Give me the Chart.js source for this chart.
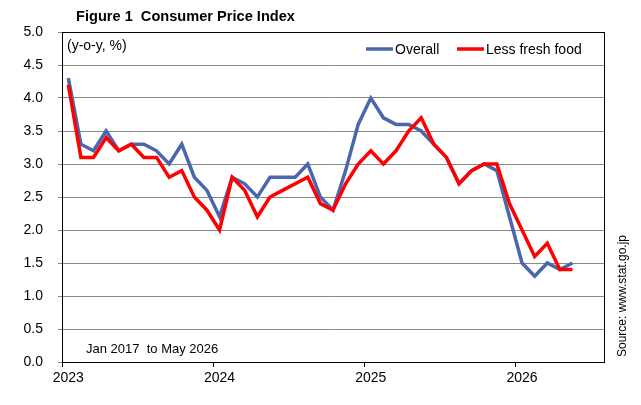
<!DOCTYPE html>
<html>
<head>
<meta charset="utf-8">
<script src="https://cdn.jsdelivr.net/npm/chart.js@4"></script>
<style>
  html, body { margin: 0; padding: 0; background: #fff; }
  #wrap { width: 641px; height: 405px; position: relative; }
</style>
</head>
<body>
<div id="wrap"><canvas id="grafico-cpi"></canvas></div>
<script>
// Dados (variação anual, %)
const years = ['2023', '2024', '2025', '2026'];
const monthNames = ['Jan','Feb','Mar','Apr','May','Jun','Jul','Aug','Sep','Oct','Nov','Dec'];
const overall = [
  4.3, 3.3, 3.2, 3.5, 3.2, 3.3, 3.3, 3.2, 3.0, 3.3, 2.8, 2.6,
  2.2, 2.8, 2.7, 2.5, 2.8, 2.8, 2.8, 3.0, 2.5, 2.3, 2.9, 3.6,
  4.0, 3.7, 3.6, 3.6, 3.5, 3.3, 3.1, 2.7, 2.9, 3.0, 2.9, 2.2,
  1.5, 1.3, 1.5, 1.4, 1.5
];
const lessFreshFood = [
  4.2, 3.1, 3.1, 3.4, 3.2, 3.3, 3.1, 3.1, 2.8, 2.9, 2.5, 2.3,
  2.0, 2.8, 2.6, 2.2, 2.5, 2.6, 2.7, 2.8, 2.4, 2.3, 2.7, 3.0,
  3.2, 3.0, 3.2, 3.5, 3.7, 3.3, 3.1, 2.7, 2.9, 3.0, 3.0, 2.4,
  2.0, 1.6, 1.8, 1.4, 1.4
];
// eixo vai até Jul 2026 (duas categorias vazias no fim)
const categories = years.flatMap(y => monthNames.map(m => m + ' ' + y)).slice(0, 43);

const FONT = "'Liberation Sans', Arial, sans-serif";
Chart.defaults.font.family = FONT;
Chart.defaults.color = '#000';

// Textos e legenda desenhados dentro da área
const extras = {
  id: 'extras',
  afterDraw(chart) {
    const { ctx, chartArea: a } = chart;
    ctx.save();
    // moldura
    ctx.strokeStyle = '#000';
    ctx.lineWidth = 1;
    ctx.strokeRect(Math.round(a.left) + 0.5, Math.round(a.top) + 0.5,
      Math.round(a.right - a.left), Math.round(a.bottom - a.top));

    ctx.fillStyle = '#000';
    ctx.textBaseline = 'alphabetic';
    ctx.textAlign = 'left';
    ctx.font = 'bold 14.6px ' + FONT;
    ctx.fillText('Figure 1  Consumer Price Index', 76, 21);

    ctx.font = '14px ' + FONT;
    ctx.fillText('(y-o-y, %)', 67, 50);

    ctx.font = '13px ' + FONT;
    ctx.fillText('Jan 2017  to May 2026', 86, 353);

    // legenda
    const itens = [
      { ds: chart.data.datasets[0], x: 366 },
      { ds: chart.data.datasets[1], x: 457 }
    ];
    ctx.font = '14px ' + FONT;
    itens.forEach(it => {
      ctx.strokeStyle = it.ds.borderColor;
      ctx.lineWidth = 3.5;
      ctx.beginPath();
      ctx.moveTo(it.x, 49);
      ctx.lineTo(it.x + 27, 49);
      ctx.stroke();
      ctx.fillText(it.ds.label, it.x + 29, 54);
    });

    // fonte
    ctx.font = '12px ' + FONT;
    ctx.translate(625.5, 296);
    ctx.rotate(-Math.PI / 2);
    ctx.textAlign = 'center';
    ctx.fillText('Source: www.stat.go.jp', 0, 0);
    ctx.restore();
  }
};

const grafico = new Chart(document.getElementById('grafico-cpi'), {
  type: 'line',
  data: {
    labels: categories,
    datasets: [
      { label: 'Overall', data: overall, borderColor: '#4A66AC', borderWidth: 3.5,
        pointRadius: 0, tension: 0, fill: false, order: 1 },
      { label: 'Less fresh food', data: lessFreshFood, borderColor: '#FF0000', borderWidth: 3.5,
        pointRadius: 0, tension: 0, fill: false, order: 0 }
    ]
  },
  options: {
    responsive: true,
    maintainAspectRatio: false,
    animation: false,
    layout: { autoPadding: false, padding: { top: 32, right: 37, left: 0, bottom: 0 } },
    plugins: { legend: { display: false }, tooltip: { enabled: false }, title: { display: false } },
    scales: {
      x: {
        type: 'category',
        offset: true,
        grid: {
          offset: true,
          drawOnChartArea: false,
          tickLength: 5,
          color: c => (c.index % 12 === 0 && c.index < categories.length ? '#000' : 'rgba(0,0,0,0)')
        },
        border: { display: true, color: '#000', width: 1 },
        ticks: {
          autoSkip: false,
          maxRotation: 0,
          padding: 3,
          font: { size: 14 },
          callback: (v, i) => (i % 12 === 0 ? years[i / 12] : '')
        },
        afterFit: s => { s.height = 43; }
      },
      y: {
        min: 0,
        max: 5,
        grid: { color: '#888', tickLength: 4, tickColor: '#888' },
        border: { display: true, color: '#000', width: 1 },
        ticks: {
          stepSize: 0.5,
          padding: 15,
          font: { size: 14 },
          callback: v => v.toFixed(1)
        },
        afterFit: s => { s.width = 62; }
      }
    }
  },
  plugins: [extras]
});
</script>
</body>
</html>
